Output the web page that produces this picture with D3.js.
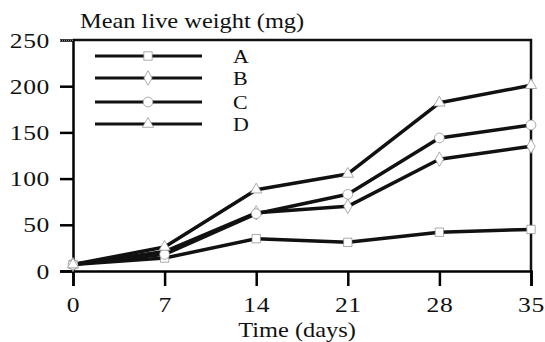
<!DOCTYPE html>
<html>
<head>
<meta charset="utf-8">
<script src="https://cdn.jsdelivr.net/npm/d3@7"></script>
<style>
body { margin: 0; background: #fff; }
svg text { font-family: "Liberation Serif", "Times New Roman", serif !important; fill: #111; }
</style>
</head>
<body>
<div class="chart"></div>
<script>
let days = [0, 7, 14, 21, 28, 35];
let seriesA = [7, 14, 35, 31, 42, 45];
let seriesB = [7, 21, 63, 70, 121, 135];
let seriesC = [7, 18, 62, 83, 144, 158];
let seriesD = [7, 26, 88, 105, 182, 201];
let seriesNames = ['A', 'B', 'C', 'D'];
let yTicks = [0, 50, 100, 150, 200, 250];

let width = 545, height = 342;
let plotLeft = 73, plotRight = 531, plotTop = 40, plotBottom = 271;
let stretch = 1.22; // scanned text is wide

let svg = d3.select('.chart').append('svg')
	.attr('width', width)
	.attr('height', height);

let x = d3.scaleLinear().domain([0, 35]).range([plotLeft, plotRight]);
let y = d3.scaleLinear().domain([0, 250]).range([plotBottom, plotTop]);

// frame top + right
svg.append('path')
	.attr('d', 'M' + plotLeft + ',' + plotTop + 'H' + plotRight + 'V' + plotBottom)
	.attr('fill', 'none')
	.attr('stroke', '#111')
	.attr('stroke-width', 2.5);

// y axis
let yAxis = svg.append('g')
	.attr('transform', 'translate(' + plotLeft + ',0)')
	.call(d3.axisLeft(y).tickValues(yTicks).tickSize(13).tickPadding(10));
yAxis.selectAll('.tick line').attr('stroke-width', 2.5)
	.filter(d => d == 250).attr('stroke-width', 1).attr('stroke-dasharray', '1,1').attr('stroke', '#888');
yAxis.select('.domain').attr('stroke-width', 2.5);
yAxis.selectAll('.tick text')
	.attr('x', -23 / stretch)
	.attr('dy', '0.34em')
	.attr('transform', 'scale(' + stretch + ',1)');

// x axis
let xAxis = svg.append('g')
	.attr('transform', 'translate(0,' + plotBottom + ')')
	.call(d3.axisBottom(x).tickValues(days).tickSize(15).tickPadding(4));
xAxis.selectAll('.tick line').attr('stroke-width', 2.5);
xAxis.select('.domain').attr('stroke-width', 2.5);
xAxis.selectAll('.tick text')
	.attr('y', 41)
	.attr('dy', 0)
	.attr('transform', 'scale(' + stretch + ',1)');

svg.selectAll('.tick text')
	.attr('font-size', 21)
	.attr('letter-spacing', 0.5);

function label(tx, ty, str, size, anchor) {
	svg.append('text')
		.attr('transform', 'translate(' + tx + ',' + ty + ') scale(' + stretch + ',1)')
		.attr('text-anchor', anchor || 'start')
		.attr('font-size', size)
		.text(str);
}

label(80, 28, 'Mean live weight (mg)', 20);
label(297, 337, 'Time (days)', 20, 'middle');

let allSeries = [seriesA, seriesB, seriesC, seriesD];
let shapes = [d3.symbolSquare, d3.symbolDiamond, d3.symbolCircle, d3.symbolTriangle];
let sizes = [70, 60, 75, 55];

let line = d3.line()
	.x((d, i) => x(days[i]))
	.y(d => y(d));

allSeries.forEach(function (s) {
	svg.append('path')
		.datum(s)
		.attr('fill', 'none')
		.attr('stroke', '#111')
		.attr('stroke-width', 3.5)
		.attr('stroke-linejoin', 'round')
		.attr('d', line);
});

allSeries.forEach(function (s, k) {
	svg.append('g').selectAll('path')
		.data(s)
		.enter().append('path')
		.attr('transform', (d, i) => 'translate(' + x(days[i]) + ',' + y(d) + ')')
		.attr('d', d3.symbol().type(shapes[k]).size(sizes[k]))
		.attr('fill', '#fff')
		.attr('stroke', '#888')
		.attr('stroke-width', 0.7);
});

// legend
let legendY = [56, 78, 102, 124];
let legend = svg.append('g');
seriesNames.forEach(function (name, k) {
	let ly = legendY[k];
	legend.append('line')
		.attr('x1', 95).attr('x2', 202)
		.attr('y1', ly).attr('y2', ly)
		.attr('stroke', '#111')
		.attr('stroke-width', 3);
	legend.append('path')
		.attr('transform', 'translate(148,' + ly + ')')
		.attr('d', d3.symbol().type(shapes[k]).size(sizes[k]))
		.attr('fill', '#fff')
		.attr('stroke', '#888')
		.attr('stroke-width', 0.7);
	label(233, ly + 7, name, 18);
});
</script>
</body>
</html>
